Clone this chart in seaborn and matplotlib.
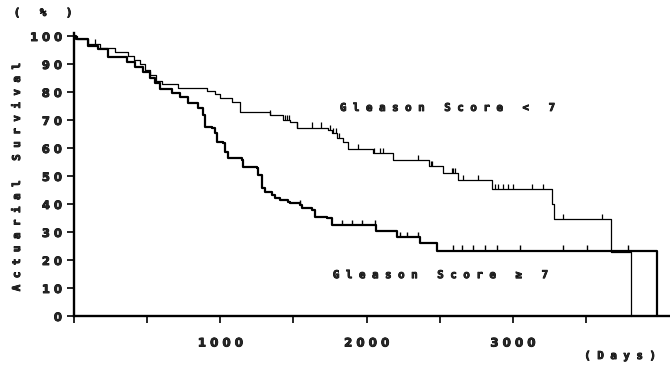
import numpy as np
import pandas as pd
import matplotlib
matplotlib.use("Agg")
import matplotlib.pyplot as plt
import matplotlib.patheffects as pe
import seaborn as sns

# ---- data ----
low_days = [0, 20, 96, 178, 280, 369, 410, 451, 485, 519, 560, 601, 711, 909, 964, 998,
            1080, 1134, 1339, 1430, 1476, 1524, 1736, 1763, 1797, 1838, 1873, 2043, 2180,
            2426, 2522, 2624, 2857, 3267, 3280, 3670, 3806]
low_surv = [100, 99, 97, 95.7, 94.3, 93, 91.5, 90, 88, 86, 84, 83, 81.3, 80.3, 79.3, 78,
            76.5, 72.8, 71.8, 70, 69.3, 67.3, 66.4, 65.3, 63.5, 62, 59.6, 58.2, 55.7,
            53.4, 51, 48.6, 45.4, 40, 34.6, 22.9, 0]

high_days = [0, 14, 96, 164, 232, 362, 417, 472, 519, 554, 588, 670, 724, 779, 847, 882,
             895, 943, 964, 977, 1018, 1032, 1052, 1148, 1155, 1251, 1257, 1285, 1305, 1353,
             1374, 1408, 1462, 1476, 1545, 1558, 1626, 1647, 1729, 1763, 2064, 2207, 2365,
             2481, 3984]
high_surv = [100, 99, 96.5, 95.5, 92.6, 90.8, 89, 87.2, 84.9, 83.3, 81, 79.5, 78.3, 76, 74.2,
             71.8, 67.6, 67, 65.2, 62.3, 61.7, 58.7, 56.3, 55.7, 53.3, 52.7, 50.4, 45.6, 44.4,
             43.2, 42, 41.4, 40.8, 40.2, 39.6, 38.5, 37.9, 35.5, 34.9, 32.5, 30.3, 28.1, 26,
             23.3, 0]

low_censor = [144, 1339, 1442, 1456, 1469, 1524, 1626, 1688, 1750, 1770, 1791, 1811, 1941,
              2050, 2091, 2112, 2351, 2440, 2447, 2583, 2590, 2604, 2658, 2761, 2877, 2898,
              2932, 2966, 3000, 3130, 3205, 3342, 3608]
high_censor = [1545, 1832, 1900, 1968, 2057, 2228, 2276, 2351, 2590, 2652, 2727, 2809, 2891,
               3048, 3342, 3506, 3786]

group_names = ["Gleason Score < 7", "Gleason Score \u2265 7"]
y_ticks = [0, 10, 20, 30, 40, 50, 60, 70, 80, 90, 100]
x_major = [1000, 2000, 3000]
x_minor = [0, 500, 1500, 2500, 3500]


def spaced(s, gap=" "):
    words = s.split(" ")
    return "   ".join(gap.join(list(w)) for w in words)


df = pd.concat([
    pd.DataFrame({"days": low_days, "surv": low_surv, "group": group_names[0]}),
    pd.DataFrame({"days": high_days, "surv": high_surv, "group": group_names[1]}),
], ignore_index=True)

sns.set_style("white")
FONT = ["DejaVu Sans Mono", "DejaVu Sans"]
NUMFONT = ["DejaVu Sans"]
plt.rcParams["font.family"] = FONT
plt.rcParams["font.weight"] = "bold"
BOLD = [pe.withStroke(linewidth=0.6, foreground="black")]

fig = plt.figure(figsize=(6.7, 3.7), dpi=100)
ax = fig.add_axes([74 / 670, 54 / 370, 1 - 74 / 670, (316 - 33.2) / 370])

sns.lineplot(data=df, x="days", y="surv", hue="group", size="group",
             palette={group_names[0]: "black", group_names[1]: "black"},
             sizes={group_names[0]: 0.9, group_names[1]: 1.6},
             estimator=None, sort=False, drawstyle="steps-post",
             legend=False, ax=ax, clip_on=False)


def step_value(days, surv, t):
    i = np.searchsorted(np.asarray(days), t, side="right") - 1
    return np.asarray(surv)[i]


lc = np.array(low_censor)
hc = np.array(high_censor)
ly = step_value(low_days, low_surv, lc)
hy = step_value(high_days, high_surv, hc)
ax.vlines(lc, ly, ly + 1.9, color="black", lw=0.9)
ax.vlines(hc, hy, hy + 1.9, color="black", lw=1.0)

ax.set_xlim(0, 4075)
ax.set_ylim(0, 101)

ax.set_yticks(y_ticks)
ax.set_yticklabels([" ".join(str(v)) for v in y_ticks], fontsize=8.3,
                   fontweight="bold", family=NUMFONT)
ax.set_xticks(x_major)
ax.set_xticklabels([" ".join(str(v)) for v in x_major], fontsize=8.5,
                   fontweight="bold", family=NUMFONT)
ax.set_xticks(x_minor, minor=True)
for lab in ax.get_xticklabels() + ax.get_yticklabels():
    lab.set_path_effects(BOLD)

ax.tick_params(axis="both", which="both", direction="out", length=4.8, width=1.2,
               color="black", bottom=True, left=True)
ax.tick_params(axis="x", which="major", pad=10)
ax.tick_params(axis="y", which="major", pad=4)

for s in ["top", "right"]:
    ax.spines[s].set_visible(False)
for s in ["left", "bottom"]:
    ax.spines[s].set_linewidth(1.7)
    ax.spines[s].set_color("black")
    ax.spines[s].set_capstyle("projecting")

ax.set_xlabel("")
ax.set_ylabel("")

ax.text(1818, 74.3, spaced(group_names[0]), fontsize=7.8, fontweight="bold",
        family=FONT, ha="left", va="center", path_effects=BOLD)
ax.text(1770, 14.6, spaced(group_names[1]), fontsize=7.8, fontweight="bold",
        family=FONT, ha="left", va="center", path_effects=BOLD)

fig.text(17 / 670, 1 - 177.5 / 370, spaced("Actuarial Survival"), rotation=90,
         fontsize=7.8, fontweight="bold", family=FONT, ha="center", va="center",
         path_effects=BOLD)
fig.text(43 / 670, 1 - 13 / 370, "(   %   )", fontsize=7.8, fontweight="bold",
         family=FONT, ha="center", va="center", path_effects=BOLD)
fig.text(620 / 670, 1 - 356 / 370, "( D a y s )", fontsize=7.8, fontweight="bold",
         family=FONT, ha="center", va="center", path_effects=BOLD)

fig.savefig("out.png", dpi=100)
